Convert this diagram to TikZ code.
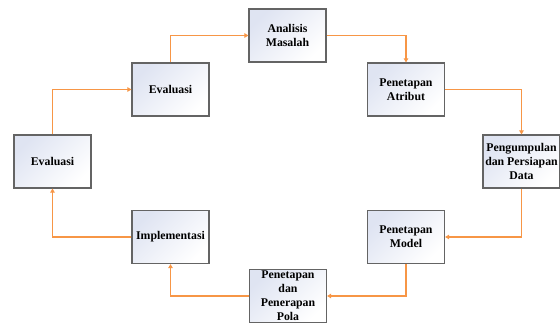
\documentclass[tikz,border=0pt]{standalone}
\usepackage{fontspec}
\setmainfont{Liberation Serif}
\usetikzlibrary{arrows.meta}
\definecolor{arrorange}{HTML}{F79646}
\definecolor{boxtint}{HTML}{DFE4F2}
\definecolor{boxline}{HTML}{646464}
\tikzset{
  procbox/.style={draw=boxline, line width=1.2pt, top color=boxtint, bottom color=white, shading angle=45,
    minimum width=77pt, minimum height=53pt, inner sep=1pt, align=center,
    font=\fontsize{11.8}{14}\selectfont\bfseries},
  flow/.style={draw=arrorange, line width=1.6pt, -{Triangle[length=4pt,width=4.5pt]}}
}
\begin{document}
\begin{tikzpicture}[x=1pt,y=1pt]
\useasboundingbox (0,0) rectangle (560,-323);
\node[procbox] (am) at (287.5,-35.5) {Analisis\\Masalah};
\node[procbox] (ev1) at (170.5,-89.5) {Evaluasi};
\node[procbox] (pa) at (406,-89.5) {Penetapan\\Atribut};
\node[procbox] (pd) at (521.5,-161.5) {Pengumpulan\\dan Persiapan\\Data};
\node[procbox] (ev2) at (52.5,-161.5) {Evaluasi};
\node[procbox] (pm) at (406,-237) {Penetapan\\Model};
\node[procbox] (im) at (170.5,-237) {Implementasi};
\node[procbox] (pp) at (288,-296) {Penetapan\\dan\\Penerapan\\Pola};
\draw[flow] (ev2.north) |- (ev1.west);
\draw[flow] (ev1.north) |- (am.west);
\draw[flow] (am.east) -| (pa.north);
\draw[flow] (pa.east) -| (pd.north);
\draw[flow] (pd.south) |- (pm.east);
\draw[flow] (pm.south) |- (pp.east);
\draw[flow] (pp.west) -| (im.south);
\draw[flow] (im.west) -| (ev2.south);
\end{tikzpicture}
\end{document}
